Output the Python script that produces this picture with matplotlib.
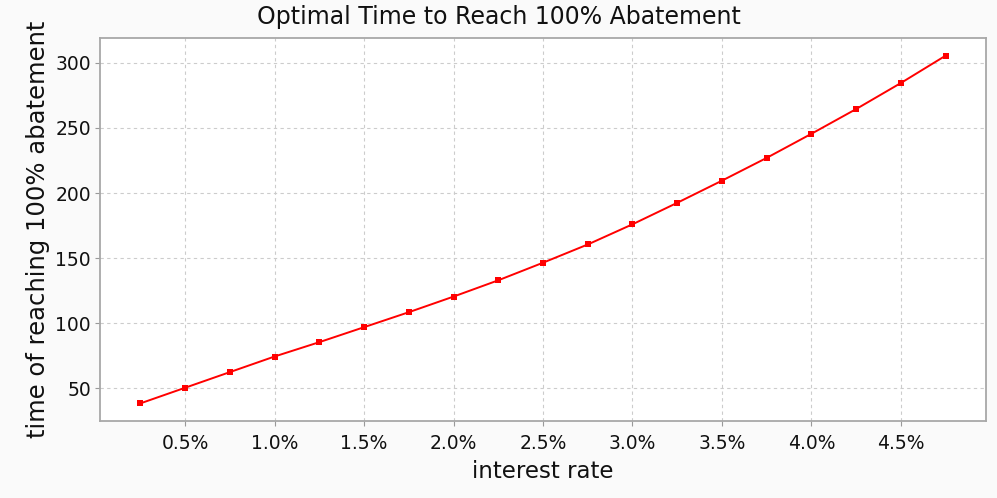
import matplotlib
matplotlib.use("Agg")
from matplotlib import pyplot as plt
from matplotlib.ticker import FuncFormatter

# interest rate (%) and optimal time to reach 100% abatement
rate = [0.25, 0.5, 0.75, 1.0, 1.25, 1.5, 1.75, 2.0, 2.25, 2.5,
        2.75, 3.0, 3.25, 3.5, 3.75, 4.0, 4.25, 4.5, 4.75]
time_full = [38.5, 50.5, 62.5, 74.5, 85.5, 97, 108.5, 120.5, 133, 146.5,
             160.5, 176, 192.5, 209.5, 227, 245.5, 264.5, 284.5, 305.5]
xticks = [0.5, 1.0, 1.5, 2.0, 2.5, 3.0, 3.5, 4.0, 4.5]
yticks = [50, 100, 150, 200, 250, 300]

plt.rcParams["font.family"] = ["DejaVu Sans"]

fig = plt.figure(figsize=(9.97, 4.98), dpi=100, facecolor="#fafafa")
ax = fig.add_axes([100 / 997, 1 - 421 / 498, 886 / 997, 383 / 498])
ax.set_facecolor("white")

ax.plot(rate, time_full, color="#ff0000", linewidth=1.4,
        marker="s", markersize=5, markeredgewidth=0)

ax.set_xlim(0.025, 4.975)
ax.set_ylim(25, 319)
ax.set_xticks(xticks)
ax.set_yticks(yticks)
ax.xaxis.set_major_formatter(FuncFormatter(lambda v, p: f"{v:.1f}%"))

ax.grid(True, color="#cccccc", linestyle=(0, (3, 3)), linewidth=0.8)
for s in ax.spines.values():
    s.set_color("#a8a8a8")
    s.set_linewidth(1.3)
ax.tick_params(axis="both", direction="out", length=3.5, width=0.8,
               color="#999999", labelsize=13.5, pad=3, labelcolor="#111111")
ax.tick_params(axis="x", pad=6)

ax.set_xlabel("interest rate", fontsize=16.5, labelpad=5, color="#111111")
ax.set_ylabel("time of reaching 100% abatement", fontsize=17.5, labelpad=4,
              color="#111111")
fig.text(0.5, 1 - 17 / 498, "Optimal Time to Reach 100% Abatement",
         ha="center", va="center", fontsize=17, color="#111111")

fig.savefig("out.png", dpi=100, facecolor=fig.get_facecolor())
